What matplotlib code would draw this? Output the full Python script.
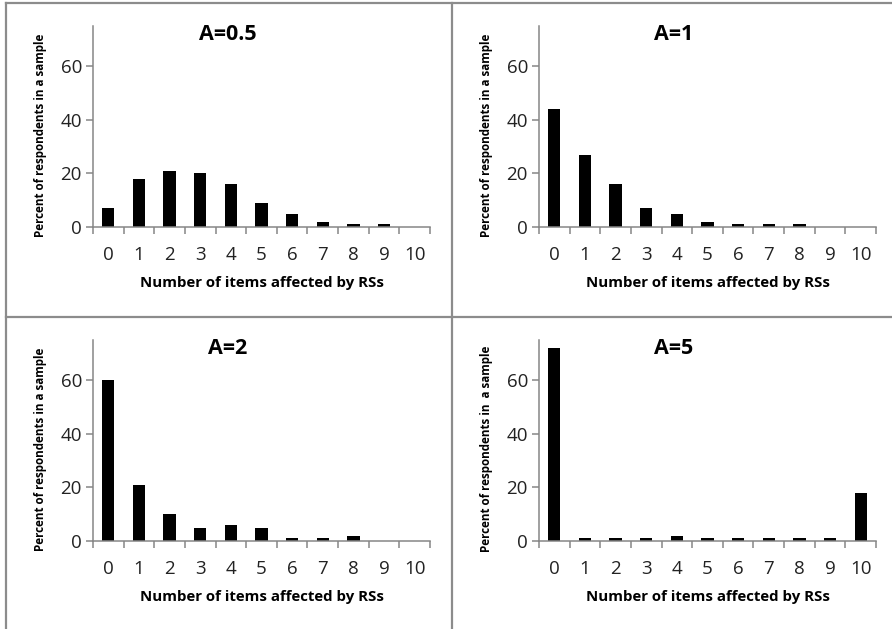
import matplotlib
matplotlib.use("Agg")
import matplotlib.pyplot as plt
from matplotlib.lines import Line2D

plt.rcParams["font.family"] = ["Open Sans", "DejaVu Sans"]

categories = list(range(11))
tick_labels = [str(c) for c in categories]
titles = ["A=0.5", "A=1", "A=2", "A=5"]
values_a05 = [7, 18, 21, 20, 16, 9, 5, 2, 1, 1, 0]
values_a1 = [44, 27, 16, 7, 5, 2, 1, 1, 1, 0, 0]
values_a2 = [60, 21, 10, 5, 6, 5, 1, 1, 2, 0, 0]
values_a5 = [72, 1, 1, 1, 2, 1, 1, 1, 1, 1, 18]
ylabels = [
    "Percent of respondents in a sample",
    "Percent of respondents in a sample",
    "Percent of respondents in a sample",
    "Percent of respondents in  a sample",
]
xlabel = "Number of items affected by RSs"

W, H = 892, 629
fig = plt.figure(figsize=(W / 100, H / 100), dpi=100)

series = [values_a05, values_a1, values_a2, values_a5]
offsets = [(0, 0), (446, 0), (0, 314), (446, 314)]
axis_color = "#868686"

for vals, title, ylab, (ox, oy) in zip(series, titles, ylabels, offsets):
    left, right, top, bottom = ox + 93, ox + 430, oy + 26, oy + 227
    ax = fig.add_axes([left / W, 1 - bottom / H, (right - left) / W, (bottom - top) / H])
    ax.bar(categories, vals, width=0.4, color="black")
    ax.set_xlim(-0.5, 10.5)
    ax.set_ylim(0, 75)
    ax.set_yticks([0, 20, 40, 60])
    ax.set_xticks(categories)
    ax.set_xticklabels(tick_labels)
    ax.set_xticks([c - 0.5 for c in categories] + [10.5], minor=True)
    ax.tick_params(axis="x", which="major", length=0, pad=14, labelsize=13.5, labelcolor="#222222")
    ax.tick_params(axis="x", which="minor", length=5, width=1.1, color=axis_color)
    ax.tick_params(axis="y", length=5, width=1.1, color=axis_color, labelsize=13.5,
                   labelcolor="#222222", pad=3)
    for side in ("top", "right"):
        ax.spines[side].set_visible(False)
    for side in ("left", "bottom"):
        ax.spines[side].set_color(axis_color)
        ax.spines[side].set_linewidth(1.1)
    ax.set_xlabel(xlabel, fontsize=10.8, fontweight="bold", labelpad=8)
    ax.set_ylabel(ylab, fontsize=8.4, fontweight="bold")
    # label sits a little below the axes centre in the original
    ax.yaxis.set_label_coords(-0.137, 0.458)
    fig.text((ox + 228) / W, 1 - (oy + 35) / H, title, fontsize=15.5,
             fontweight="bold", ha="center", va="center")

# panel borders
border = dict(color="#8c8c8c", linewidth=1.6)
fig.add_artist(Line2D([6 / W, 1], [1 - 3 / H, 1 - 3 / H], **border))
fig.add_artist(Line2D([6 / W, 6 / W], [0, 1 - 3 / H], **border))
fig.add_artist(Line2D([452 / W, 452 / W], [0, 1 - 3 / H], **border))
fig.add_artist(Line2D([6 / W, 1], [1 - 317 / H, 1 - 317 / H], **border))

fig.savefig("out.png", dpi=100)
